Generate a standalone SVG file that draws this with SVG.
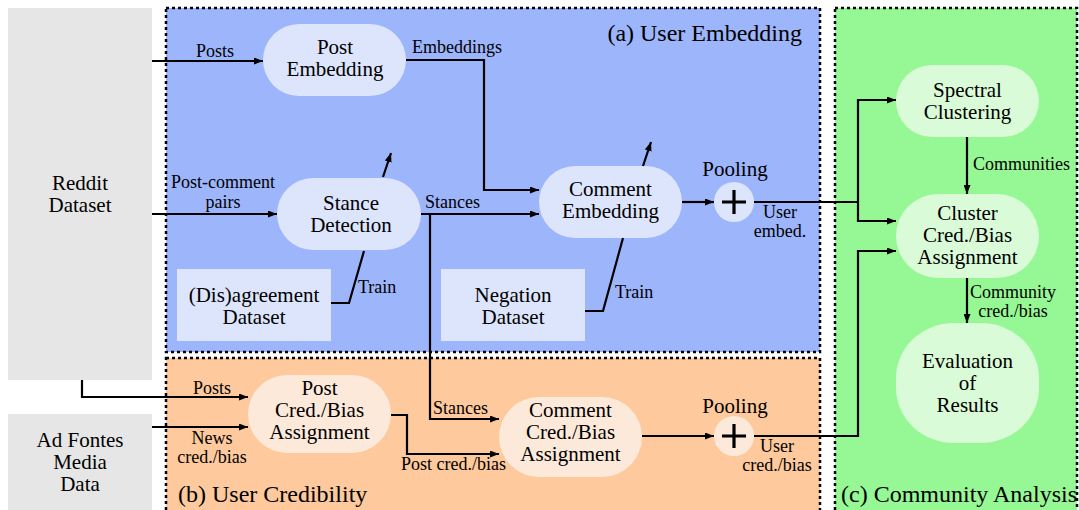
<svg xmlns="http://www.w3.org/2000/svg" width="1079" height="510" viewBox="0 0 1079 510" font-family="Liberation Serif, DejaVu Serif, serif">
<defs>
<marker id="ah" markerUnits="userSpaceOnUse" markerWidth="9" markerHeight="7" refX="9" refY="3.5" orient="auto"><path d="M0,0 L9,3.5 L0,7 z" fill="#000"/></marker>
<style>
text{font-family:'Liberation Serif','DejaVu Serif',serif;fill:#000}
.n{font-size:21px;text-anchor:middle}
.l{font-size:18px}
.c{text-anchor:middle}
.t{font-size:24px}
.reg{stroke:#000;stroke-width:2.5;stroke-dasharray:3 3}
.e{fill:none;stroke:#000;stroke-width:2.2}
.a{marker-end:url(#ah)}
.bn{fill:#dce5fc}
.on{fill:#fde9da}
.gn{fill:#dafbd8}
</style>
</defs>
<rect width="1079" height="510" fill="#fff"/>
<g id="regions">
<rect x="166" y="8" width="654" height="344" fill="#9db5fb" class="reg"/>
<rect x="166" y="358" width="654" height="160" fill="#fdc99d" class="reg"/>
<rect x="835" y="8" width="242" height="510" fill="#95f895" class="reg"/>
<text class="t" x="802" y="41" text-anchor="end">(a) User Embedding</text>
<text class="t" x="178" y="502">(b) User Credibility</text>
<text class="t" x="841" y="502">(c) Community Analysis</text>
</g>
<g id="reddit"><rect x="8" y="8" width="144" height="372" fill="#e6e6e6"/><text class="n" x="80" y="190">Reddit</text><text class="n" x="80" y="212">Dataset</text></g>
<g id="adfontes"><rect x="8" y="414" width="144" height="96" fill="#e6e6e6"/><text class="n" x="80" y="447">Ad Fontes</text><text class="n" x="80" y="469">Media</text><text class="n" x="80" y="491">Data</text></g>
<g id="postemb"><rect class="bn" x="263" y="24" width="143" height="72" rx="36"/><text class="n" x="335" y="54">Post</text><text class="n" x="335" y="76">Embedding</text></g>
<g id="stance"><rect class="bn" x="277" y="178" width="144" height="72" rx="36"/><text class="n" x="351" y="210">Stance</text><text class="n" x="351" y="232">Detection</text></g>
<g id="commentemb"><rect class="bn" x="539" y="166" width="143" height="72" rx="36"/><text class="n" x="610.5" y="196">Comment</text><text class="n" x="610.5" y="218">Embedding</text></g>
<g id="disagree"><rect class="bn" x="177" y="269" width="154" height="72"/><text class="n" x="254" y="302">(Dis)agreement</text><text class="n" x="254" y="324">Dataset</text></g>
<g id="negation"><rect class="bn" x="441" y="269" width="144" height="72"/><text class="n" x="513" y="302">Negation</text><text class="n" x="513" y="324">Dataset</text></g>
<g id="pool1"><circle class="bn" cx="734" cy="202" r="20"/><path d="M722,202 H746 M734,190 V214" stroke="#000" stroke-width="3.2"/><text class="n" x="735" y="176">Pooling</text></g>
<g id="postcred"><rect class="on" x="248" y="375" width="143" height="78" rx="39"/><text class="n" x="319.5" y="395">Post</text><text class="n" x="319.5" y="417">Cred./Bias</text><text class="n" x="319.5" y="439">Assignment</text></g>
<g id="commentcred"><rect class="on" x="499" y="397" width="143" height="80" rx="40"/><text class="n" x="570.5" y="417">Comment</text><text class="n" x="570.5" y="439">Cred./Bias</text><text class="n" x="570.5" y="461">Assignment</text></g>
<g id="pool2"><circle class="on" cx="734" cy="436" r="20"/><path d="M722,436 H746 M734,424 V448" stroke="#000" stroke-width="3.2"/><text class="n" x="735" y="413">Pooling</text></g>
<g id="spectral"><rect class="gn" x="896" y="65" width="143" height="72" rx="36"/><text class="n" x="967.5" y="97">Spectral</text><text class="n" x="967.5" y="119">Clustering</text></g>
<g id="cluster"><rect class="gn" x="896" y="194" width="143" height="84" rx="42"/><text class="n" x="967.5" y="220">Cluster</text><text class="n" x="967.5" y="242">Cred./Bias</text><text class="n" x="967.5" y="264">Assignment</text></g>
<g id="evaluation"><rect class="gn" x="896" y="323" width="143" height="120" rx="58" ry="55"/><text class="n" x="967.5" y="368">Evaluation</text><text class="n" x="967.5" y="390">of</text><text class="n" x="967.5" y="412">Results</text></g>
<g id="connectors">
<path class="e a" d="M152,61 H263"/>
<path class="e a" d="M152,214 H277"/>
<path class="e a" d="M406,60 H484 V190 H539"/>
<path class="e a" d="M421,214 H539"/>
<path class="e a" d="M430,214 V419 H499"/>
<path class="e a" d="M682,202 H714"/>
<path class="e" d="M754,202 H858"/>
<path class="e a" d="M858,202 V100 H896"/>
<path class="e a" d="M858,202 V221 H896"/>
<path class="e a" d="M642,436 H714"/>
<path class="e a" d="M754,436 H858 V251 H896"/>
<path class="e a" d="M967,137 V194"/>
<path class="e a" d="M967,278 V323"/>
<path class="e" d="M331,303 H349 L364,251"/>
<path class="e" d="M585,311 H603 L623,238"/>
<path class="e a" d="M383,177 L391,153"/>
<path class="e a" d="M643,166 L651,142"/>
<path class="e a" d="M82,380 V397 H248"/>
<path class="e a" d="M152,427 H248"/>
<path class="e a" d="M391,415 H407 V454 H499"/>
<text class="l c" x="215" y="57">Posts</text>
<text class="l c" x="223" y="188">Post-comment</text>
<text class="l c" x="223" y="208">pairs</text>
<text class="l" x="412" y="53">Embeddings</text>
<text class="l" x="425" y="208">Stances</text>
<text class="l" x="433" y="414">Stances</text>
<text class="l" x="358" y="293">Train</text>
<text class="l" x="615" y="298">Train</text>
<text class="l c" x="780" y="218">User</text>
<text class="l c" x="780" y="237">embed.</text>
<text class="l c" x="777" y="452">User</text>
<text class="l c" x="777" y="471">cred./bias</text>
<text class="l" x="973" y="170">Communities</text>
<text class="l c" x="1013" y="298">Community</text>
<text class="l c" x="1013" y="317">cred./bias</text>
<text class="l c" x="212" y="394">Posts</text>
<text class="l c" x="212" y="444">News</text>
<text class="l c" x="212" y="463">cred./bias</text>
<text class="l" x="401" y="470">Post cred./bias</text>
</g>
</svg>
